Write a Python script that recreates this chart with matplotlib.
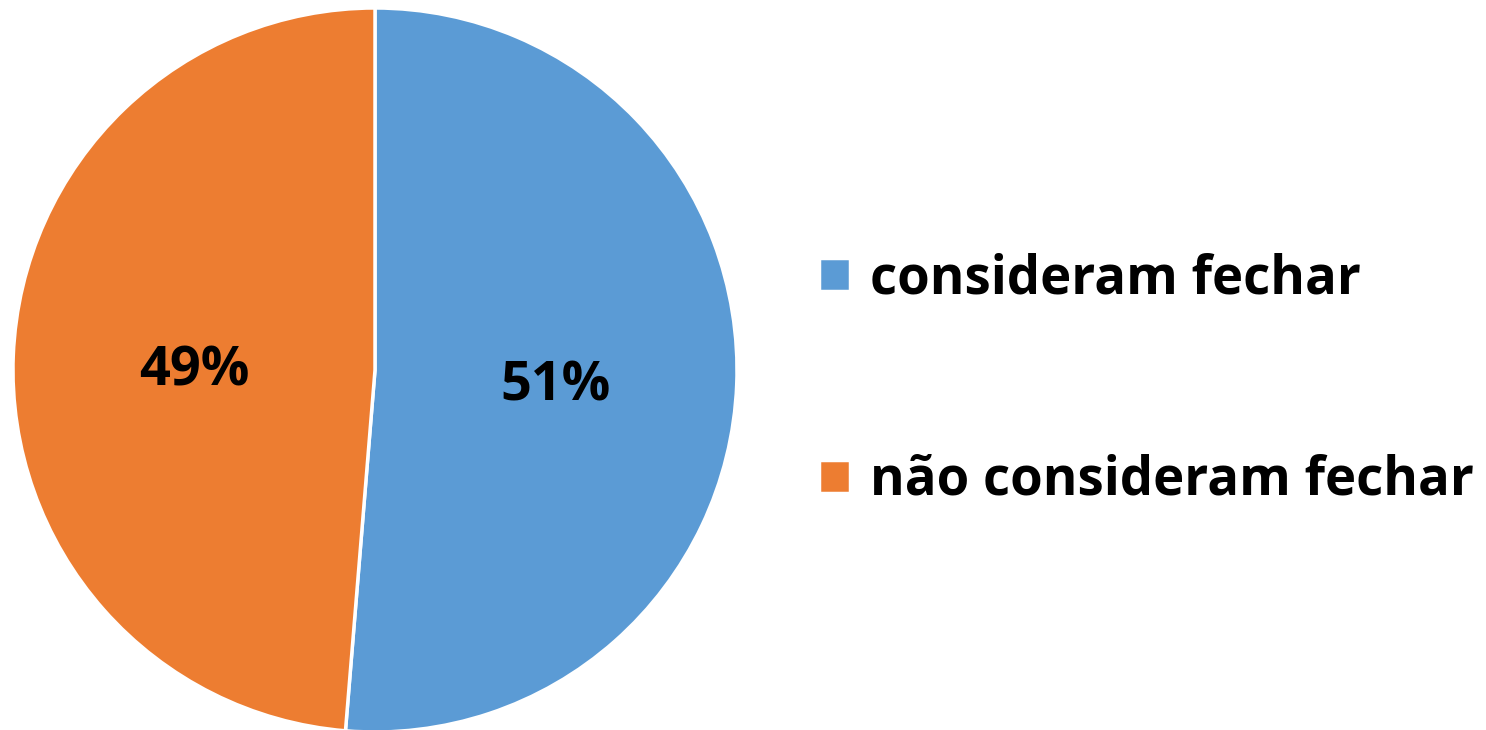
import matplotlib
matplotlib.use("Agg")
import matplotlib.pyplot as plt

labels = ["consideram fechar", "não consideram fechar"]
values = [51.3, 48.7]
colors = ["#5B9BD5", "#ED7D31"]

plt.rcParams['font.family'] = ['Open Sans', 'DejaVu Sans']

fig = plt.figure(figsize=(14.86, 7.30), dpi=100)
# pie centred at about (375, 370) px with radius 362 px
ax = fig.add_axes([13 / 1486, (360 - 362) / 730, 724 / 1486, 724 / 730])

wedges, texts, autotexts = ax.pie(
    values, colors=colors, startangle=90, counterclock=False,
    autopct=lambda p: f"{p:.0f}%", pctdistance=0.5,
    wedgeprops=dict(edgecolor="white", linewidth=2.5),
    textprops=dict(fontsize=39, fontweight="bold", color="black"),
)
# nudge the percent labels down a little, like the original
for t in autotexts:
    x, y = t.get_position()
    t.set_position((x, y - 0.025))

ax.set_xlim(-1, 1)
ax.set_ylim(-1, 1)
ax.set_aspect("equal")
ax.axis("off")

leg = fig.legend(
    wedges, labels, loc="center left", bbox_to_anchor=(819 / 1486, 1 - 380 / 730),
    frameon=False, prop=dict(weight="bold", size=38),
    borderpad=0, borderaxespad=0,
    handlelength=0.59, handleheight=0.59, handletextpad=0.38, labelspacing=2.8,
)

fig.savefig("out.png", dpi=100)
